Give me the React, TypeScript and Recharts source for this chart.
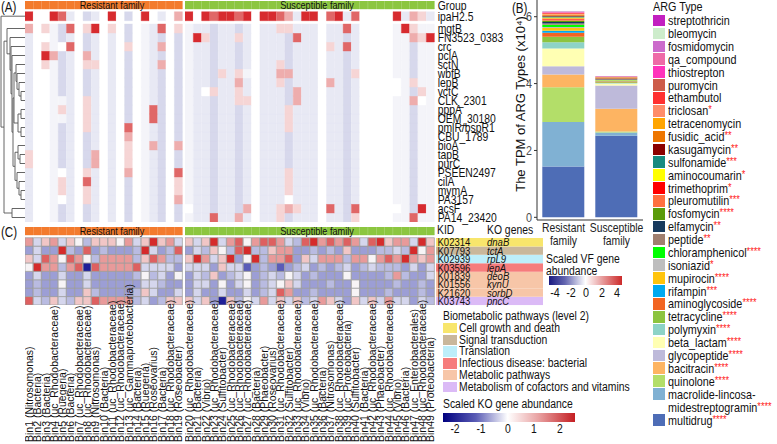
import React from 'react';
import { BarChart, Bar, Cell, XAxis, YAxis, LineChart, Line } from 'recharts';

const SANS = "'Liberation Sans', Arial, sans-serif";
// the figure is squeezed sideways, so horizontal text is narrowed
const SQ = 0.83;

// ---------- shared: bins and groups ----------
const bins = [
  'Bin1 (Nitrosomonas)', 'Bin2 (Bacteria)', 'Bin3 (Bacteria)', 'Bin4 (uc_Rhodobacteraceae)',
  'Bin5 (Ruegeria)', 'Bin6 (Bacteria)', 'Bin7 (uc_Rhodobacteraceae)', 'Bin8 (uc_Rhodobacteraceae)',
  'Bin9 (Nitrosomonas)', 'Bin10 (Bacteria)', 'Bin11 (uc_Rhodobacteraceae)', 'Bin12 (uc_Rhodobacteraceae)',
  'Bin13 (uc_Gammaproteobacteria)', 'Bin14 (Bacteria)', 'Bin15 (Ruegeria)', 'Bin16 (Roseovarius)',
  'Bin17 (Bacteria)', 'Bin18 (uc_Rhodobacteraceae)', 'Bin19 (Roseobacter)', 'Bin20 (uc_Rhodobacteraceae)',
  'Bin21 (Bacteria)', 'Bin22 (Vibrio)', 'Bin23 (uc_Rhodobacteraceae)', 'Bin24 (Sulfitobacter)',
  'Bin25 (uc_Rhodobacteraceae)', 'Bin26 (uc_Rhodobacteraceae)', 'Bin27 (uc_Rhodobacteraceae)', 'Bin28 (Bacteria)',
  'Bin29 (Phaeobacter)', 'Bin30 (Roseovarius)', 'Bin31 (uc_Rhodobacteraceae)', 'Bin32 (Sulfitobacter)',
  'Bin33 (uc_Rhodobacteraceae)', 'Bin34 (Vibrio)', 'Bin35 (uc_Rhodobacteraceae)', 'Bin36 (Bacteria)',
  'Bin37 (Nitrosomonas)', 'Bin38 (uc_Rhodobacteraceae)', 'Bin39 (uc_Proteobacteria)', 'Bin40 (Sulfitobacter)',
  'Bin41 (Bacteria)', 'Bin42 (uc_Rhodobacteraceae)', 'Bin43 (Phaeobacter)', 'Bin44 (uc_Rhodobacteraceae)',
  'Bin45 (Vibrio)', 'Bin46 (Bacteria)', 'Bin47 (uc_Enterobacterales)', 'Bin48 (uc_Rhodobacteraceae)',
  'Bin49 (Proteobacteria)',
];
const RESISTANT_N = 19;
const groupNames = ['Resistant family', 'Susceptible family'];
const groupColors = ['#f37b2d', '#8cc640'];

// ---------- panel A: VF genes ----------
const vfGenes = [
  'ipaH2.5', 'mgtB', 'FN3523_0383', 'crc', 'pclA', 'sctN', 'wbfB', 'lepB', 'vctC', 'CLK_2301',
  'pppA', 'OEM_30180', 'pmlR/bspR1', 'CBU_1789', 'bioA', 'tapB', 'purC', 'PSEEN2497', 'cilA',
  'mymA', 'PA3157', 'acsF', 'PA14_23420',
];
// levels: . white, w near white, a/b lavender, 1-4 pink to red
const vfTopRow = '4..43a.ba.4.b.4.a.2' + '4.434434.4432a44.34a3....4a21a';
const vfBaseRow = 'a..wba.ba.a.b.wab.b' + 'waabaaba.aaabaaa.aaba....wwbww';
const vfSpots: [number, number, string][] = [
  [1, 0, '2'], [1, 2, '1'], [1, 5, '3'], [1, 7, '1'], [1, 8, '4'], [1, 10, '1'], [1, 16, '3'], [1, 18, '1'],
  [3, 2, '1'], [3, 4, '.'], [3, 5, '3'], [3, 12, '1'], [3, 16, '2'],
  [4, 2, '4'], [4, 3, '2'], [4, 7, '2'],
  [5, 2, '1'], [5, 7, '1'], [5, 8, '1'], [5, 16, '2'],
  [9, 4, 'w'], [9, 7, '1'], [10, 4, '1'], [10, 7, '1'], [10, 15, '3'], [11, 4, 'w'], [11, 7, '1'], [11, 15, '3'],
  [12, 7, '1'], [12, 12, '3'], [13, 12, '2'], [14, 12, '1'], [14, 15, '2'], [14, 18, '2'],
  [15, 0, '1'], [15, 8, '2'], [15, 12, '1'], [16, 0, '1'], [16, 8, '2'], [16, 12, '1'],
  [17, 4, '.'], [17, 7, '1'], [17, 12, '2'], [17, 18, '3'], [18, 4, '1'], [18, 7, '3'], [18, 18, '1'],
  [19, 4, '1'], [19, 7, '1'], [19, 18, '1'], [20, 4, '.'], [20, 7, '1'], [20, 18, '2'],
  [2, 20, '4'], [2, 21, '1'], [2, 25, '1'], [2, 32, '3'], [2, 46, '2'], [2, 47, '1'], [2, 48, '4'],
  [1, 30, '1'], [1, 31, '1'], [1, 38, '3'], [1, 45, '4'], [1, 46, '1'],
  [3, 36, '1'], [3, 38, '3'], [5, 30, '1'],
  [6, 23, '1'], [6, 25, '1'], [6, 26, 'w'], [6, 30, '2'], [6, 31, '2'], [6, 39, '1'],
  [7, 25, '2'], [7, 30, '1'], [7, 36, '2'], [7, 44, '.'], [7, 46, '1'],
  [8, 21, '.'], [8, 22, '1'], [8, 25, '1'], [8, 32, '2'], [8, 44, '.'], [8, 47, '1'],
  [9, 25, '1'], [9, 26, '1'], [9, 32, '2'], [9, 46, '2'], [9, 47, '.'],
  [10, 31, '1'], [11, 31, '1'], [12, 31, '1'], [17, 31, '1'], [18, 31, '1'], [19, 31, '1'], [20, 31, '.'],
  [21, 19, '.'], [21, 26, '2'], [21, 30, '1'], [21, 31, '2'], [21, 32, '1'], [21, 36, '3'], [21, 39, '3'],
  [21, 44, '.'], [21, 47, '4'],
  [22, 22, '3'], [22, 25, '2'], [22, 30, '1'], [22, 39, '1'], [22, 46, '3'],
];
const vfPalette: Record<string, string> = {
  '.': '#ffffff', w: '#f4f4f9', a: '#e8e9f4', b: '#d7d8ec',
  '1': '#f6d5d5', '2': '#eeadad', '3': '#e06767', '4': '#d72b2f',
};
// hclust merges: [left, right, x of join]; negative ids point at earlier merges
const dendroMerges: [number, number, number][] = [
  [19, 20, 21], [18, -1, 19], [17, -2, 17], [15, 16, 20], [14, -4, 18], [-5, -3, 15],
  [10, 11, 21], [12, 13, 21], [-7, -8, 18], [8, 9, 21], [7, -10, 19], [6, -11, 17],
  [5, -12, 16], [-13, -9, 14], [-14, -6, 13], [4, -15, 12], [3, -16, 11], [2, -17, 10],
  [1, -18, 7], [21, 22, 12], [-19, -20, 4], [0, -21, 1],
];

// ---------- panel B: ARG types ----------
const argTypes = [
  'streptothricin', 'bleomycin', 'fosmidomycin', 'qa_compound', 'thiostrepton', 'puromycin', 'ethambutol',
  'triclosan', 'tetracenomycin', 'fusidic_acid', 'kasugamycin', 'sulfonamide', 'aminocoumarin', 'trimethoprim',
  'pleuromutilin', 'fosfomycin', 'elfamycin', 'peptide', 'chloramphenicol', 'isoniazid', 'mupirocin', 'rifampin',
  'aminoglycoside', 'tetracycline', 'polymyxin', 'beta_lactam', 'glycopeptide', 'bacitracin', 'quinolone',
  'macrolide-lincosamidestreptogramin', 'multidrug',
];
const argStars = [
  '', '', '', '', '', '', '', '*', '', '**', '**', '***', '*', '*', '***', '****', '**', '**', '****', '*',
  '****', '***', '****', '****', '****', '****', '****', '****', '****', '****', '****',
];
const argColors = [
  '#c21fc0', '#cdeccb', '#cc6bcc', '#ee6aa7', '#ff33bb', '#cd5c4a', '#ff3030', '#ff8c69', '#ffa500',
  '#ee7600', '#8b0000', '#168b80', '#ffff00', '#ff0000', '#ff7040', '#5a9b0a', '#173a5e', '#a08070',
  '#00ff00', '#bebebe', '#ffc40c', '#00a9f0', '#f26522', '#8cc43f', '#8dd3c7', '#ffffb3', '#bebada',
  '#fdb462', '#b3de69', '#80b1d3', '#4e6db6',
];
const resistantTPM = [
  0.01, 0.01, 0.01, 0.01, 0.01, 0.01, 0.02, 0.02, 0.02, 0.02, 0.02, 0.03, 0.03, 0.03, 0.04, 0.04, 0.04,
  0.04, 0.07, 0.03, 0.08, 0.06, 0.12, 0.16, 0.19, 0.53, 0.25, 0.38, 1.04, 1.33, 1.52,
];
const susceptibleTPM = [
  0.003, 0.003, 0.003, 0.003, 0.003, 0.003, 0.004, 0.004, 0.004, 0.005, 0.005, 0.006, 0.006, 0.006, 0.01,
  0.01, 0.01, 0.02, 0.01, 0.01, 0.02, 0.01, 0.02, 0.02, 0.02, 0.06, 0.69, 0.68, 0.03, 0.1, 2.44,
];
const argYTicks = [0, 2, 4, 6];
const vfScaleTicks = ['-4', '-2', '0', '2', '4'];

// ---------- panel C: KO genes ----------
const koIds = ['K02314', 'K07793', 'K02939', 'K03596', 'K01839', 'K01556', 'K21620', 'K03743'];
const koGenes = ['dnaB', 'tctA', 'rpL9', 'lepA', 'deoB', 'kynU', 'sorbD', 'pncC'];
const koPathway = [0, 1, 2, 3, 4, 4, 4, 5];
const pathwayNames = [
  'Cell growth and death', 'Signal transduction', 'Translation', 'Infectious disease: bacterial',
  'Metabolic pathways', 'Metabolism of cofactors and vitamins',
];
const pathwayColors = ['#f8e66c', '#c9b79b', '#bdeefa', '#f67c7c', '#f7c6a8', '#dbbaf6'];
const koLevels = [
  'qcpqcpwbpppwqcpRpqc' + 'pcpRcqrw' + 'qrrqcbrRqrqrqcrRpqqcRp',
  'BcBBRbBrBbBBBbRcBbr' + 'BcbpwbrR' + 'bbpqqBBbBbBpBBBbbcbRwq',
  'pcrqwrqwbqqqqbprqbb' + 'pRqcpRBw' + 'RbqqrBpcqqqbqqwqrqRqpq',
  'wRqqbqrNrqqqqrccccB' + 'cccBpccM' + 'BbBMBbcBbBbcBbcbbbBcBc',
  'BcBBcBBcBBBBBbwbcBw' + 'BcbpBbcw' + 'BbcbwcBbBBBwBBBBbqbBBc',
  'BbBBwBBcBBBBBBccbBB' + 'BccBwBcw' + 'BbcwpcBBBbBBwBBBBbBBbB',
  'BbBBcBBpbBBBBbpcBBc' + 'BcBBcBBc' + 'BbcrqBBbBBBBwBBBbBBBbB',
  'rcbpcbpprqqqqbcBbpp' + 'pcpBNpbw' + 'cqcpcpbcqpcBpcpcqccBcb',
];
const koPalette: Record<string, string> = {
  N: '#1f1f98', M: '#5a5cb8', B: '#9c9ed5', b: '#b9bbe1', c: '#d5d6ed', w: '#f7f4f6',
  p: '#f1c6c6', q: '#e89a9a', r: '#de6060', R: '#d52b2b',
};
const koScaleTicks = ['-2', '-1', '0', '1', '2'];

// ---------- layout ----------
const RES_LEFT = 25, RES_W = 157.7, SUS_LEFT = 185.3, SUS_W = 249.7;
const A_TOP = 1, A_GROUP_H = 8, A_GAP1 = 2.7, A_ROW_H = 9, A_GAP2 = 3.3;
const C_TOP = 227, C_GROUP_H = 8, C_GAP = 2.7, C_ROW_H = 8.41;

const vfLevels: string[][] = vfGenes.map((_, r) => (r === 0 ? vfTopRow : vfBaseRow).split(''));
vfSpots.forEach(([r, c, v]) => {
  vfLevels[r][c] = v;
});

type Seg = { key: string; size: number; fills?: string[]; stroke?: string };

const vfSegs = (from: number, to: number): Seg[] => {
  const segs: Seg[] = [];
  for (let r = vfGenes.length - 1; r >= 1; r--) {
    segs.push({ key: 'r' + r, size: A_ROW_H, fills: vfLevels[r].slice(from, to).map((c) => vfPalette[c]) });
  }
  segs.push({ key: 'gap2', size: A_GAP2 });
  segs.push({ key: 'r0', size: A_ROW_H, fills: vfLevels[0].slice(from, to).map((c) => vfPalette[c]) });
  segs.push({ key: 'gap1', size: A_GAP1 });
  segs.push({ key: 'grp', size: A_GROUP_H, fills: bins.slice(from, to).map(() => groupColors[from === 0 ? 0 : 1]) });
  return segs;
};

const koSegs = (from: number, to: number): Seg[] => {
  const segs: Seg[] = [];
  for (let r = koIds.length - 1; r >= 0; r--) {
    segs.push({
      key: 'k' + r,
      size: C_ROW_H,
      fills: koLevels[r].split('').slice(from, to).map((c) => koPalette[c]),
      stroke: '#9b9b9b',
    });
  }
  segs.push({ key: 'gap', size: C_GAP });
  segs.push({ key: 'grp', size: C_GROUP_H, fills: bins.slice(from, to).map(() => groupColors[from === 0 ? 0 : 1]) });
  return segs;
};

const A_TOTAL = A_GROUP_H + A_GAP1 + A_ROW_H + A_GAP2 + A_ROW_H * (vfGenes.length - 1);
const vfTickValues = [
  A_TOTAL - A_GROUP_H / 2,
  A_TOTAL - (A_GROUP_H + A_GAP1 + A_ROW_H / 2),
  ...vfGenes.slice(1).map((_, i) => A_TOTAL - (A_GROUP_H + A_GAP1 + A_ROW_H + A_GAP2 + i * A_ROW_H + A_ROW_H / 2)),
];
const vfTickLabels = ['Group', ...vfGenes];

// narrowed svg text
const NText = ({ x, y, size, anchor = 'start', italic = false, fill = '#111', children }: any) => (
  <text
    transform={`translate(${x},${y}) scale(${SQ},1)`}
    dy="0.36em"
    textAnchor={anchor}
    fontSize={size}
    fontFamily={SANS}
    fontStyle={italic ? 'italic' : undefined}
    fill={fill}
  >
    {children}
  </text>
);

interface HeatBlockProps {
  left: number;
  top: number;
  width: number;
  names: string[];
  segs: Seg[];
  axisRight?: number;
  rightTicks?: number[];
  rightLabels?: string[];
  bottom?: number;
  bottomTick?: any;
  pad?: number;
}

const HeatBlock = ({ left, top, width, names, segs, axisRight = 0, rightTicks, rightLabels, bottom = 0, bottomTick, pad = 0 }: HeatBlockProps) => {
  const total = segs.reduce((s, g) => s + g.size, 0);
  const spare = bottomTick ? 5 : 0; // room for the last rotated label
  const data = names.map((name) => {
    const row: Record<string, any> = { name };
    segs.forEach((g) => {
      row[g.key] = g.size;
    });
    return row;
  });
  return (
    <div style={{ position: 'absolute', left, top: top - pad }}>
      <BarChart
        width={width + axisRight + spare}
        height={total + bottom + 2 * pad}
        data={data}
        margin={{ top: pad, right: spare, bottom: pad, left: 0 }}
        barCategoryGap={0}
        barGap={0}
      >
        <XAxis
          dataKey="name"
          hide={!bottomTick}
          height={bottom}
          interval={0}
          axisLine={false}
          tickLine={false}
          tick={bottomTick}
        />
        <YAxis
          type="number"
          domain={[0, total]}
          allowDataOverflow
          hide={!rightTicks}
          orientation="right"
          width={axisRight}
          ticks={rightTicks}
          interval={0}
          axisLine={false}
          tickLine={false}
          tickSize={0}
          tickMargin={3}
          tick={(p: any) => (
            <NText x={p.x} y={p.y} size={12.5}>
              {rightLabels ? rightLabels[p.index] : ''}
            </NText>
          )}
        />
        {segs.map((g) => (
          <Bar key={g.key} dataKey={g.key} stackId="s" fill="none" isAnimationActive={false}>
            {g.fills
              ? g.fills.map((f, i) => (
                  <Cell key={i} fill={f} stroke={g.stroke ?? f} strokeWidth={g.stroke ? 0.7 : 0.4} />
                ))
              : null}
          </Bar>
        ))}
      </BarChart>
    </div>
  );
};

const binTick = (bottomY: number) => (props: any) => {
  const { x, payload } = props;
  return (
    <text
      transform={`translate(${x},${bottomY}) rotate(-90)`}
      dy="0.36em"
      fontSize={10.5}
      fontFamily={SANS}
      fill="#111"
      textAnchor="start"
    >
      {payload.value}
    </text>
  );
};

// dendrogram segments built from the merge table
const leafY = (r: number) =>
  r === 0
    ? A_TOP + A_GROUP_H + A_GAP1 + A_ROW_H / 2
    : A_TOP + A_GROUP_H + A_GAP1 + A_ROW_H + A_GAP2 + (r - 1) * A_ROW_H + A_ROW_H / 2;
const dendroNodes: { y: number; h: number }[] = [];
const dendroLines: { x: number; y: number }[][] = [];
dendroMerges.forEach(([a, b, h]) => {
  const pa = a >= 0 ? { y: leafY(a), h: 25 } : dendroNodes[-a - 1];
  const pb = b >= 0 ? { y: leafY(b), h: 25 } : dendroNodes[-b - 1];
  dendroNodes.push({ y: (pa.y + pb.y) / 2, h });
  dendroLines.push([
    { x: pa.h, y: pa.y },
    { x: h, y: pa.y },
    { x: h, y: pb.y },
    { x: pb.h, y: pb.y },
  ]);
});

const Dendrogram = () => (
  <div style={{ position: 'absolute', left: 0, top: 0 }}>
    <LineChart width={26} height={224} margin={{ top: 0, right: 0, bottom: 0, left: 0 }}>
      <XAxis type="number" dataKey="x" domain={[0, 26]} allowDataOverflow hide />
      <YAxis type="number" dataKey="y" domain={[0, 224]} reversed allowDataOverflow hide />
      {dendroLines.map((pts, i) => (
        <Line
          key={i}
          data={pts}
          dataKey="y"
          type="linear"
          stroke="#555"
          strokeWidth={0.9}
          dot={false}
          activeDot={false}
          isAnimationActive={false}
        />
      ))}
    </LineChart>
  </div>
);

// ---------- panel B ----------
const argTable = groupNames.map((g, gi) => {
  const row: Record<string, any> = { group: g };
  argTypes.forEach((t, i) => {
    row[t] = gi === 0 ? resistantTPM[i] : susceptibleTPM[i];
  });
  return row;
});

const FamilyTick = (props: any) => {
  const { x, y, payload } = props;
  const [a, b] = String(payload.value).split(' ');
  return (
    <g>
      <NText x={x} y={y + 5} size={12.5} anchor="middle" fill="#222">{a}</NText>
      <NText x={x} y={y + 18} size={12.5} anchor="middle" fill="#222">{b}</NText>
    </g>
  );
};

const ArgChart = () => (
  <div style={{ position: 'absolute', left: 505, top: 0 }}>
    <BarChart width={145} height={250} data={argTable} margin={{ top: 0, right: 7, bottom: 0, left: 0 }} barCategoryGap="10%">
      <XAxis
        dataKey="group"
        height={30}
        interval={0}
        tickLine={false}
        tickSize={0}
        tickMargin={2}
        axisLine={{ stroke: '#333' }}
        tick={<FamilyTick />}
      />
      <YAxis
        type="number"
        domain={[-0.08, 6.5]}
        allowDataOverflow
        ticks={argYTicks}
        width={32}
        tickSize={3}
        tickMargin={2}
        tickLine={{ stroke: '#333' }}
        axisLine={{ stroke: '#333' }}
        tick={(p: any) => (
          <NText x={p.x} y={p.y} size={13} anchor="end" fill="#4d4d4d">
            {p.payload.value}
          </NText>
        )}
        label={{
          content: () => (
            <text transform="translate(15,104) rotate(-90)" dy="0.35em" textAnchor="middle" fontSize={13} fontFamily={SANS} fill="#111">
              The TPM of ARG Types (x10⁴)
            </text>
          ),
        }}
      />
      {argTypes
        .map((t, i) => ({ t, i }))
        .reverse()
        .map(({ t, i }) => (
          <Bar key={t} dataKey={t} stackId="arg" fill={argColors[i]} isAnimationActive={false} />
        ))}
    </BarChart>
  </div>
);

const KidBlock = () => {
  const pad = 4;
  const row: Record<string, any> = { name: 'kid' };
  koIds.forEach((id) => {
    row[id] = 1;
  });
  return (
    <div style={{ position: 'absolute', left: 436, top: C_TOP + C_GROUP_H + C_GAP - pad }}>
      <BarChart
        width={107}
        height={C_ROW_H * koIds.length + 2 * pad}
        data={[row]}
        margin={{ top: pad, right: 0, bottom: pad, left: 0 }}
        barCategoryGap={0}
      >
        <XAxis dataKey="name" hide />
        <YAxis type="number" domain={[0, koIds.length]} allowDataOverflow hide />
        {koIds
          .map((id, i) => ({ id, i }))
          .reverse()
          .map(({ id, i }) => (
            <Bar
              key={id}
              dataKey={id}
              stackId="k"
              fill={pathwayColors[koPathway[i]]}
              isAnimationActive={false}
              label={(p: any) => (
                <g>
                  <NText x={p.x + 1.5} y={p.y + p.height / 2} size={11.5}>{id}</NText>
                  <NText x={p.x + 51} y={p.y + p.height / 2} size={11.5} italic>{koGenes[i]}</NText>
                </g>
              )}
            />
          ))}
      </BarChart>
    </div>
  );
};

const T = ({ x, y, size = 12.5, children, center = false, color = '#111' }: any) => (
  <div
    style={{
      position: 'absolute',
      left: x,
      top: y - size / 2,
      fontSize: size,
      lineHeight: `${size}px`,
      fontFamily: SANS,
      color,
      whiteSpace: 'nowrap',
      transform: center ? `translateX(-50%) scaleX(${SQ})` : `scaleX(${SQ})`,
      transformOrigin: center ? 'center' : 'left',
    }}
  >
    {children}
  </div>
);

const App = () => {
  const cBottom = 442 - C_TOP;
  const cAxis = cBottom - (C_GROUP_H + C_GAP + C_ROW_H * koIds.length) + 2;
  return (
    <div style={{ position: 'absolute', left: 0, top: 0, width: 777, height: 444, background: '#fff', overflow: 'hidden' }}>
      {/* panel A */}
      <Dendrogram />
      <HeatBlock left={RES_LEFT} top={A_TOP} width={RES_W} names={bins.slice(0, RESISTANT_N)} segs={vfSegs(0, RESISTANT_N)} />
      <HeatBlock
        left={SUS_LEFT}
        top={A_TOP}
        width={SUS_W}
        names={bins.slice(RESISTANT_N)}
        segs={vfSegs(RESISTANT_N, bins.length)}
        axisRight={72}
        rightTicks={vfTickValues}
        rightLabels={vfTickLabels}
        pad={6}
      />
      <T x={1} y={7} size={14}>(A)</T>
      <T x={111.5} y={5.2} size={11} center>{groupNames[0]}</T>
      <T x={316.5} y={5.2} size={11} center>{groupNames[1]}</T>

      {/* panel B */}
      <ArgChart />
      <T x={512} y={8} size={14}>(B)</T>
      <T x={653} y={6.8} size={13}>ARG Type</T>
      {argTypes.map((t, i) => {
        const cy = i < argTypes.length - 1 ? 20.7 + i * 12.875 : 420;
        const lines = t === 'macrolide-lincosamidestreptogramin' ? ['macrolide-lincosa-', 'midestreptogramin'] : [t];
        return (
          <React.Fragment key={t}>
            <div style={{ position: 'absolute', left: 653, top: cy - 5.9, width: 12, height: 11.6, background: argColors[i] }} />
            {lines.map((ln, li) => (
              <T key={li} x={668} y={cy + li * 13.4} size={13}>
                {ln}
                {li === lines.length - 1 && argStars[i] ? (
                  <span style={{ color: '#ff2020', fontSize: 11, position: 'relative', top: -2 }}>{argStars[i]}</span>
                ) : null}
              </T>
            ))}
          </React.Fragment>
        );
      })}
      <T x={546} y={259} size={12.5}>Scaled VF gene</T>
      <T x={546} y={271.5} size={12.5}>abundance</T>
      <div
        style={{
          position: 'absolute',
          left: 549,
          top: 276,
          width: 73,
          height: 8.5,
          background: 'linear-gradient(to right, #1a1a80 0%, #6466b0 22%, #ffffff 50%, #e8a0a0 72%, #cc2a2a 100%)',
        }}
      />
      {vfScaleTicks.map((t, i) => (
        <T key={t} x={555 + i * 15.5} y={292} size={13} center>{t}</T>
      ))}

      {/* panel C */}
      <HeatBlock
        left={RES_LEFT}
        top={C_TOP}
        width={RES_W}
        names={bins.slice(0, RESISTANT_N)}
        segs={koSegs(0, RESISTANT_N)}
        bottom={cAxis}
        bottomTick={binTick(cBottom)}
      />
      <HeatBlock
        left={SUS_LEFT}
        top={C_TOP}
        width={SUS_W}
        names={bins.slice(RESISTANT_N)}
        segs={koSegs(RESISTANT_N, bins.length)}
        bottom={cAxis}
        bottomTick={binTick(cBottom)}
      />
      <KidBlock />
      <T x={1} y={232} size={14}>(C)</T>
      <T x={111.5} y={231.2} size={11} center>{groupNames[0]}</T>
      <T x={316.5} y={231.2} size={11} center>{groupNames[1]}</T>
      <T x={437} y={230} size={12.5}>KID</T>
      <T x={487} y={230} size={12.5}>KO genes</T>

      <T x={443} y={316} size={12.5}>Biometabolic pathways (level 2)</T>
      {pathwayNames.map((p, i) => (
        <React.Fragment key={p}>
          <div style={{ position: 'absolute', left: 443, top: 328 + i * 11.8 - 5.3, width: 14, height: 10.6, background: pathwayColors[i] }} />
          <T x={459} y={328 + i * 11.8} size={12.5}>{p}</T>
        </React.Fragment>
      ))}
      <T x={443} y={404} size={12.5}>Scaled KO gene abundance</T>
      <div
        style={{
          position: 'absolute',
          left: 443,
          top: 413,
          width: 132,
          height: 9,
          background: 'linear-gradient(to right, #00007f 0%, #5b5db5 25%, #ffffff 49%, #e9a3a3 72%, #c41e22 100%)',
        }}
      />
      {koScaleTicks.map((t, i) => (
        <T key={t} x={455 + i * 26.25} y={429} size={12.5} center>{t}</T>
      ))}
    </div>
  );
};

export default App;
